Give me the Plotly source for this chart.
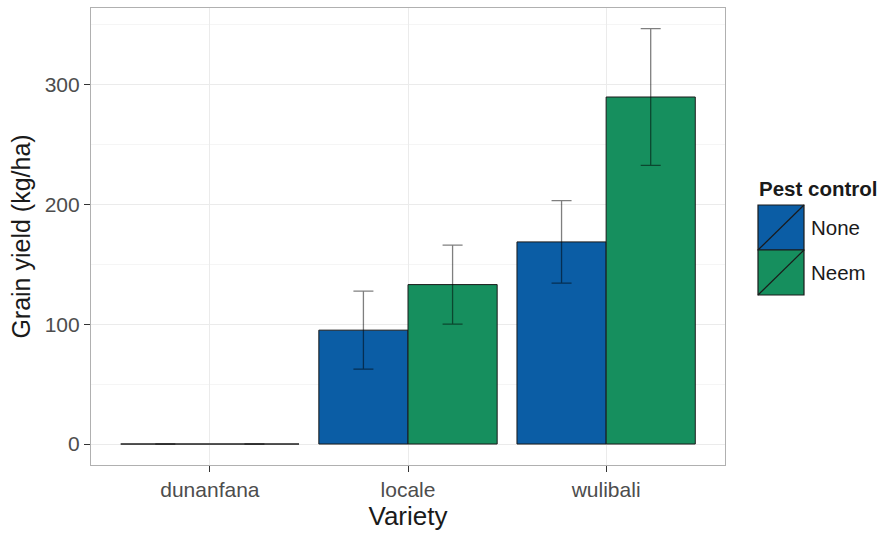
import plotly.graph_objects as go

varieties = ["dunanfana", "locale", "wulibali"]
none_yield = [0, 95, 168.6]
none_err = [0, 32.5, 34.4]
neem_yield = [0, 133, 289.5]
neem_err = [0, 33, 57]
series_names = ["None", "Neem"]
colors = ["#0B5DA5", "#168F5E"]

W, H = 887, 534
L, R, T, B = 91, 725, 8, 465

fig = go.Figure()
for name, vals, errs, col in zip(series_names, [none_yield, neem_yield], [none_err, neem_err], colors):
    fig.add_trace(go.Bar(
        x=varieties, y=vals, name=name,
        marker=dict(color=col, line=dict(color="#1a1a1a", width=1)),
        error_y=dict(type="data", array=errs, visible=True,
                     color="rgba(0,0,0,0.5)", thickness=1.3, width=10),
        showlegend=False,
    ))

def px(x):
    return (x - L) / (R - L)

def py(y):
    return (B - y) / (B - T)

shapes = []
annotations = []
# custom legend
box_x0, box_x1 = 758, 804
tops = [205, 250]
for i, (name, col) in enumerate(zip(series_names, colors)):
    y0, y1 = tops[i], tops[i] + 45
    shapes.append(dict(type="rect", xref="paper", yref="paper",
                       x0=px(box_x0), x1=px(box_x1), y0=py(y1), y1=py(y0),
                       fillcolor=col, line=dict(color="#1a1a1a", width=1.2)))
    shapes.append(dict(type="line", xref="paper", yref="paper",
                       x0=px(box_x0), x1=px(box_x1), y0=py(y1), y1=py(y0),
                       line=dict(color="#1a1a1a", width=1.2)))
    annotations.append(dict(xref="paper", yref="paper", x=px(809), y=py((y0 + y1) / 2),
                            text=name, showarrow=False, xanchor="left", yanchor="middle",
                            font=dict(size=20.5, color="#1a1a1a")))
annotations.append(dict(xref="paper", yref="paper", x=px(757), y=py(188),
                        text="<b>Pest control</b>", showarrow=False, xanchor="left", yanchor="middle",
                        font=dict(size=20.5, color="#1a1a1a")))

fig.update_layout(
    width=W, height=H,
    margin=dict(l=L, r=W - R, t=T, b=H - B),
    paper_bgcolor="white", plot_bgcolor="white",
    barmode="group", bargap=0.1, bargroupgap=0,
    font=dict(family="Liberation Sans, Arial, sans-serif", color="#1a1a1a"),
    shapes=shapes, annotations=annotations,
    xaxis=dict(
        range=[-0.6, 2.6], showgrid=True, gridcolor="#EBEBEB", gridwidth=1,
        showline=True, linecolor="#B0B0B0", linewidth=1.2, mirror=True,
        ticks="outside", ticklen=6, tickcolor="#333333", tickwidth=1.3,
        tickfont=dict(size=21, color="#4D4D4D"),
        title=dict(text="Variety", font=dict(size=26, color="#1a1a1a"), standoff=4),
        zeroline=False,
    ),
    yaxis=dict(
        range=[-17.5, 363.75], tickvals=[0, 100, 200, 300],
        showgrid=True, gridcolor="#EBEBEB", gridwidth=1,
        minor=dict(tickvals=[50, 150, 250, 350], showgrid=True, gridcolor="#F5F5F5", gridwidth=1),
        showline=True, linecolor="#B0B0B0", linewidth=1.2, mirror=True,
        ticks="outside", ticklen=6, tickcolor="#333333", tickwidth=1.3,
        tickfont=dict(size=21, color="#4D4D4D"),
        title=dict(text="Grain yield (kg/ha)", font=dict(size=25, color="#1a1a1a"), standoff=6),
        zeroline=False,
    ),
)

fig.write_html("out.html")
